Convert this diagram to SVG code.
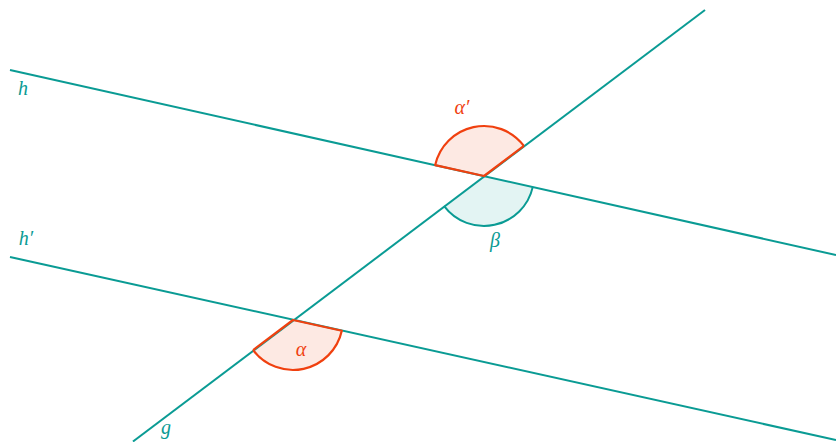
<svg xmlns="http://www.w3.org/2000/svg" width="836" height="442" viewBox="0 0 836 442">
<style>
.ln{stroke:#0a9b94;stroke-width:2;fill:none}
.red{stroke:#f0400f;stroke-width:2.2;fill:none;stroke-linejoin:round}
.fr{fill:#fde9e3}
.ft{fill:#e3f4f3}
.lab{font-family:"Liberation Serif","DejaVu Serif",serif;font-style:italic;font-size:20px;text-anchor:middle}
.tl{fill:#0a9b94}
.tr{fill:#f0400f}
</style>
<rect width="836" height="442" fill="#ffffff"/>
<g id="fills">
<path class="fr" d="M484,176 L435.2,165.1 A50,50 0 0 1 523.9,145.9 Z"/>
<path class="ft" d="M484,176 L532.8,186.9 A50,50 0 0 1 444.1,206.1 Z"/>
<path class="fr" d="M293,320 L341.8,330.8 A50,50 0 0 1 253.1,350.1 Z"/>
</g>
<g id="connectors">
<line id="h" class="ln" x1="10" y1="70" x2="836" y2="255"/>
<line id="hp" class="ln" x1="10" y1="257" x2="836" y2="440"/>
<line id="g" class="ln" x1="133" y1="441.5" x2="705" y2="10"/>
</g>
<g id="angle-alpha-prime">
<path class="red" d="M523.9,145.9 L484,176 L435.2,165.1 A50,50 0 0 1 523.9,145.9"/>
<text class="lab tr" x="462" y="114">α′</text>
</g>
<g id="angle-beta">
<path class="ln" d="M532.8,186.9 A50,50 0 0 1 444.1,206.1"/>
<text class="lab tl" x="495" y="247">β</text>
</g>
<g id="angle-alpha">
<path class="red" d="M253.1,350.1 L293,320 L341.8,330.8 A50,50 0 0 1 253.1,350.1"/>
<text class="lab tr" x="301" y="356">α</text>
</g>
<g id="labels">
<text class="lab tl" x="23" y="95">h</text>
<text class="lab tl" x="26" y="245">h′</text>
<text class="lab tl" x="166" y="434">g</text>
</g>
</svg>
